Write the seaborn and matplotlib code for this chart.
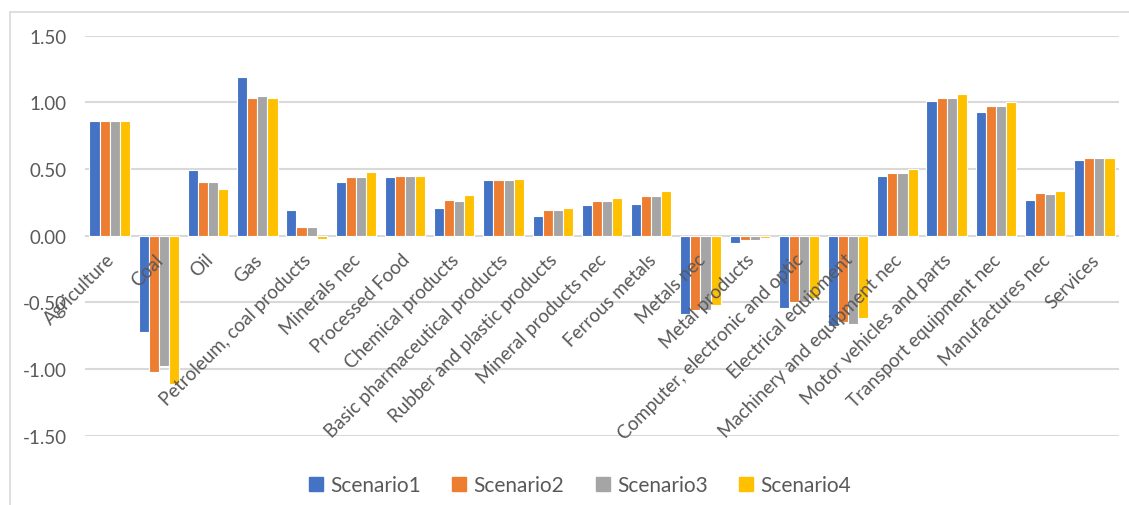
import matplotlib
matplotlib.use("Agg")
import matplotlib.pyplot as plt
from matplotlib.lines import Line2D
import matplotlib.transforms as mtransforms
import seaborn as sns
import pandas as pd

sectors = ["Agriculture", "Coal", "Oil", "Gas", "Petroleum, coal products", "Minerals nec",
           "Processed Food", "Chemical products", "Basic pharmaceutical products",
           "Rubber and plastic products", "Mineral products nec", "Ferrous metals",
           "Metals nec", "Metal products", "Computer, electronic and optic",
           "Electrical equipment", "Machinery and equipment nec", "Motor vehicles and parts",
           "Transport equipment nec", "Manufactures nec", "Services"]

scenario1 = [0.86, -0.72, 0.49, 1.19, 0.19, 0.40, 0.44, 0.205, 0.42, 0.15, 0.23, 0.24,
             -0.59, -0.055, -0.54, -0.68, 0.45, 1.01, 0.93, 0.27, 0.57]
scenario2 = [0.86, -1.02, 0.40, 1.035, 0.065, 0.44, 0.45, 0.27, 0.42, 0.19, 0.26, 0.295,
             -0.56, -0.035, -0.50, -0.65, 0.47, 1.035, 0.97, 0.32, 0.58]
scenario3 = [0.86, -0.975, 0.40, 1.05, 0.065, 0.44, 0.45, 0.26, 0.42, 0.19, 0.26, 0.295,
             -0.56, -0.035, -0.50, -0.66, 0.47, 1.035, 0.97, 0.31, 0.58]
scenario4 = [0.86, -1.11, 0.35, 1.035, -0.025, 0.475, 0.45, 0.305, 0.425, 0.21, 0.285, 0.335,
             -0.52, -0.015, -0.47, -0.62, 0.50, 1.06, 1.00, 0.335, 0.58]

scenario_names = ["Scenario1", "Scenario2", "Scenario3", "Scenario4"]
colors = ["#4472C4", "#ED7D31", "#A5A5A5", "#FFC000"]
yticks = [-1.5, -1.0, -0.5, 0.0, 0.5, 1.0, 1.5]

rows = []
for name, vals in zip(scenario_names, [scenario1, scenario2, scenario3, scenario4]):
    for s, v in zip(sectors, vals):
        rows.append({"sector": s, "value": v, "scenario": name})
df = pd.DataFrame(rows)

sns.set_theme(style="white")
plt.rcParams["font.family"] = ["Lato", "DejaVu Sans"]

fig = plt.figure(figsize=(11.29, 5.06), dpi=100)
ax = fig.add_axes([85 / 1129, 1 - 436.7 / 506, (1119 - 85) / 1129, 400 / 506])

sns.barplot(data=df, x="sector", y="value", hue="scenario", palette=colors,
            width=0.82, edgecolor="white", linewidth=0.8, ax=ax, legend=False,
            saturation=1)

ax.set_ylim(-1.5, 1.5)
ax.set_xlim(-0.5, len(sectors) - 0.5)
ax.set_yticks(yticks)
ax.set_yticklabels([f"{t:.2f}" for t in yticks], fontsize=13.5, color="#595959")
ax.yaxis.grid(True, color="#D9D9D9", linewidth=1.5)
ax.set_axisbelow(True)
ax.xaxis.set_zorder(5)
for sp in ax.spines.values():
    sp.set_visible(False)
ax.spines["bottom"].set_position(("data", 0))
ax.tick_params(axis="y", length=0, pad=13)
ax.tick_params(axis="x", length=0, pad=15)
ax.set_xticks(range(len(sectors)))
ax.set_xticklabels(sectors, rotation=45, ha="right", va="center", rotation_mode="anchor",
                   fontsize=13.5, color="#595959")
for lbl in ax.get_xticklabels():
    lbl.set_transform(lbl.get_transform() + mtransforms.ScaledTranslation(
        2 / 100, 0, fig.dpi_scale_trans))
ax.set_xlabel("")
ax.set_ylabel("")

handles = [plt.Rectangle((0, 0), 1, 1, color=c) for c in colors]
fig.legend(handles, scenario_names, loc="center", bbox_to_anchor=(580 / 1129, 1 - 486 / 506),
           ncol=4, frameon=False, fontsize=15, handlelength=0.68, handleheight=0.68,
           columnspacing=1.5, handletextpad=0.35, labelcolor="#595959")

# chart frame
fig.add_artist(Line2D([10 / 1129, 1], [1 - 13 / 506, 1 - 13 / 506], color="#D9D9D9",
                      linewidth=1.2, transform=fig.transFigure))
fig.add_artist(Line2D([10 / 1129, 10 / 1129], [0, 1 - 13 / 506], color="#D9D9D9",
                      linewidth=1.2, transform=fig.transFigure))

fig.savefig("out.png", dpi=100, facecolor="white")
